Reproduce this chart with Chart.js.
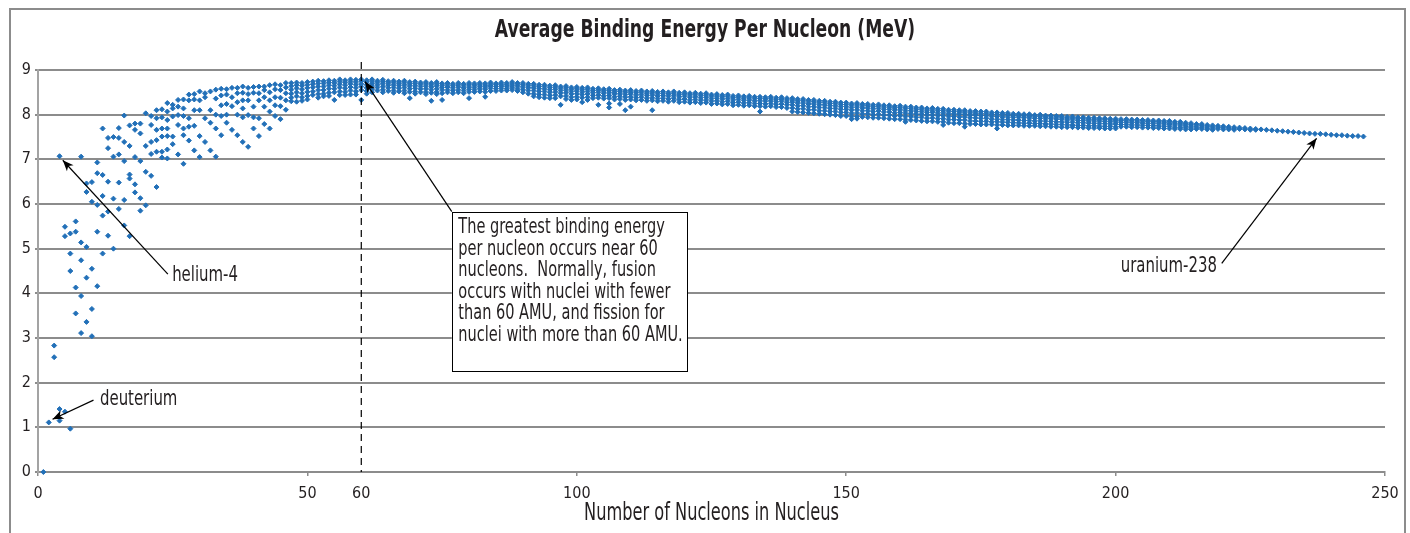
<!DOCTYPE html>
<html>
<head>
<meta charset="utf-8">
<title>Average Binding Energy Per Nucleon</title>
<script src="https://cdn.jsdelivr.net/npm/chart.js@4.4.1/dist/chart.umd.min.js"></script>
<style>
  html, body { margin: 0; padding: 0; background: #fff; }
  canvas { display: block; }
</style>
</head>
<body>
<canvas id="beChart" width="1410" height="533"></canvas>
<script>
// ================= DATA =================
// each entry: [mass number A, [binding energy per nucleon (MeV) of the isobars]]
var lightNuclei = [
  [1, [0]], [2, [1.11]], [3, [2.83, 2.57]], [4, [7.07, 1.41, 1.15]],
  [5, [5.49, 5.28, 1.35]], [6, [5.34, 4.89, 4.50, 0.97]], [7, [5.61, 5.38, 4.13, 3.55]],
  [8, [7.06, 5.14, 4.74, 3.94, 3.11]], [9, [6.46, 6.27, 5.04, 4.35, 3.36]],
  [10, [6.49, 6.05, 4.55, 3.65, 3.04]], [11, [6.93, 6.69, 5.98, 5.38, 4.16]],
  [12, [7.69, 6.65, 6.18, 5.74, 4.89]], [13, [7.48, 7.25, 6.50, 5.83, 5.29]],
  [14, [7.50, 7.06, 6.12, 5.00]], [15, [7.70, 7.48, 7.11, 6.48, 5.89]],
  [16, [7.98, 7.39, 6.96, 6.09, 5.52]], [17, [7.76, 7.30, 6.66, 6.57, 5.28]],
  [18, [7.80, 7.66, 7.05, 6.44, 6.26]], [19, [7.80, 7.58, 6.96, 6.13, 5.85]],
  [20, [8.03, 7.30, 6.72, 5.97]], [21, [7.97, 7.77, 7.39, 7.12, 6.63]],
  [22, [8.10, 7.92, 7.66, 7.43, 7.17, 6.38]], [23, [8.12, 7.94, 7.69, 7.51, 7.17, 7.04]],
  [24, [8.26, 8.07, 7.88, 7.69, 7.52, 7.22, 7.02]], [25, [8.22, 8.14, 7.96, 7.51, 7.34]],
  [26, [8.33, 8.18, 7.99, 7.77, 7.11]], [27, [8.34, 8.14, 7.97, 7.69, 7.54, 6.90]],
  [28, [8.45, 8.32, 7.92, 7.73, 7.42]], [29, [8.46, 8.34, 8.10, 7.75, 7.20]],
  [30, [8.52, 8.32, 8.10, 7.52, 7.05]], [31, [8.48, 8.39, 7.92, 7.39]],
  [32, [8.52, 8.10, 7.82, 7.20]], [33, [8.56, 8.36, 8.00, 7.69, 7.06]],
  [34, [8.58, 8.43, 8.21, 7.97, 7.54]], [35, [8.57, 8.45, 8.24, 8.00, 7.82]],
  [36, [8.60, 8.39, 8.19, 7.66]], [37, [8.60, 8.48, 8.28, 8.00, 7.54]],
  [38, [8.63, 8.49, 8.32, 8.14, 7.94, 7.39]], [39, [8.60, 8.46, 8.32, 7.99, 7.28]],
  [40, [8.62, 8.49, 8.18, 7.94, 7.69]], [41, [8.63, 8.48, 8.32, 7.92, 7.52]],
  [42, [8.63, 8.55, 8.39, 8.18, 7.79]], [43, [8.66, 8.50, 8.32, 8.07, 7.69]],
  [44, [8.68, 8.57, 8.39, 8.21, 7.97]], [45, [8.66, 8.55, 8.38, 8.19, 7.90]],
  [46, [8.71, 8.61, 8.48, 8.32, 8.11]]
];

var mediumNuclei = [
  [47, [8.71, 8.64, 8.56, 8.47, 8.38, 8.30]], [48, [8.72, 8.66, 8.59, 8.50, 8.41, 8.29]],
  [49, [8.71, 8.65, 8.57, 8.48, 8.39, 8.31]], [50, [8.73, 8.67, 8.60, 8.51, 8.42, 8.34]],
  [51, [8.74, 8.68, 8.61, 8.52, 8.44]], [52, [8.76, 8.70, 8.63, 8.55, 8.46, 8.38]],
  [53, [8.75, 8.70, 8.63, 8.55, 8.47, 8.41]], [54, [8.77, 8.72, 8.66, 8.58, 8.49, 8.42]],
  [55, [8.76, 8.71, 8.65, 8.58, 8.50, 8.33]], [56, [8.79, 8.74, 8.68, 8.61, 8.52, 8.44]],
  [57, [8.77, 8.72, 8.66, 8.59, 8.51, 8.44]], [58, [8.79, 8.74, 8.69, 8.62, 8.54, 8.45]],
  [59, [8.78, 8.73, 8.67, 8.60, 8.52, 8.45]], [60, [8.79, 8.75, 8.69, 8.63, 8.55, 8.33]],
  [61, [8.77, 8.73, 8.67, 8.60, 8.53, 8.47]], [62, [8.79, 8.75, 8.70, 8.64, 8.57, 8.50]],
  [63, [8.76, 8.72, 8.67, 8.61, 8.54]], [64, [8.78, 8.74, 8.69, 8.63, 8.56, 8.50]],
  [65, [8.75, 8.71, 8.66, 8.60, 8.53]], [66, [8.76, 8.72, 8.67, 8.61, 8.54, 8.49]],
  [67, [8.74, 8.70, 8.65, 8.59, 8.52]], [68, [8.76, 8.72, 8.67, 8.61, 8.54, 8.48]],
  [69, [8.73, 8.69, 8.64, 8.58, 8.51, 8.37]], [70, [8.74, 8.70, 8.65, 8.59, 8.52, 8.47]],
  [71, [8.72, 8.68, 8.63, 8.57, 8.50]], [72, [8.73, 8.69, 8.64, 8.58, 8.51, 8.46]],
  [73, [8.71, 8.67, 8.62, 8.56, 8.49, 8.31]], [74, [8.73, 8.69, 8.64, 8.58, 8.51, 8.46]],
  [75, [8.70, 8.66, 8.61, 8.55, 8.48, 8.33]], [76, [8.71, 8.67, 8.62, 8.56, 8.50]],
  [77, [8.69, 8.65, 8.60, 8.54, 8.48]], [78, [8.71, 8.67, 8.62, 8.56, 8.50]],
  [79, [8.69, 8.65, 8.60, 8.54, 8.48]], [80, [8.71, 8.67, 8.62, 8.57, 8.51, 8.37]],
  [81, [8.70, 8.66, 8.61, 8.56, 8.51]], [82, [8.71, 8.67, 8.63, 8.58, 8.52]],
  [83, [8.70, 8.66, 8.62, 8.57, 8.51, 8.40]], [84, [8.72, 8.68, 8.64, 8.59, 8.53]],
  [85, [8.70, 8.67, 8.63, 8.58, 8.53]], [86, [8.72, 8.68, 8.64, 8.59, 8.54]],
  [87, [8.71, 8.67, 8.63, 8.58, 8.54]], [88, [8.73, 8.69, 8.65, 8.60, 8.55]],
  [89, [8.71, 8.67, 8.63, 8.58, 8.53]], [90, [8.71, 8.67, 8.62, 8.56, 8.50]],
  [91, [8.69, 8.65, 8.60, 8.54, 8.47]], [92, [8.69, 8.65, 8.60, 8.54, 8.47, 8.41]],
  [93, [8.67, 8.63, 8.58, 8.52, 8.45, 8.39]], [94, [8.67, 8.63, 8.58, 8.52, 8.45, 8.38]],
  [95, [8.65, 8.61, 8.56, 8.50, 8.43, 8.37]], [96, [8.66, 8.62, 8.57, 8.51, 8.44, 8.37]],
  [97, [8.63, 8.59, 8.54, 8.48, 8.41, 8.22]], [98, [8.64, 8.60, 8.55, 8.49, 8.42, 8.35]],
  [99, [8.61, 8.57, 8.52, 8.46, 8.39, 8.33]], [100, [8.62, 8.58, 8.53, 8.47, 8.40, 8.34]],
  [101, [8.60, 8.56, 8.51, 8.45, 8.38, 8.28]], [102, [8.61, 8.57, 8.52, 8.46, 8.39, 8.33]],
  [103, [8.58, 8.54, 8.49, 8.43, 8.37]], [104, [8.59, 8.55, 8.50, 8.44, 8.38, 8.22]],
  [105, [8.57, 8.53, 8.48, 8.42, 8.36]], [106, [8.58, 8.54, 8.49, 8.43, 8.37, 8.25, 8.16]],
  [107, [8.55, 8.51, 8.46, 8.40, 8.34]], [108, [8.56, 8.52, 8.47, 8.41, 8.35, 8.24]],
  [109, [8.54, 8.50, 8.45, 8.39, 8.33, 8.10]], [110, [8.55, 8.51, 8.46, 8.40, 8.34, 8.18]],
  [111, [8.53, 8.49, 8.44, 8.38, 8.32]], [112, [8.54, 8.50, 8.45, 8.39, 8.33]],
  [113, [8.52, 8.48, 8.43, 8.37, 8.31]], [114, [8.53, 8.49, 8.44, 8.38, 8.32, 8.10]],
  [115, [8.51, 8.47, 8.42, 8.36, 8.30]], [116, [8.52, 8.48, 8.43, 8.37, 8.31]],
  [117, [8.50, 8.46, 8.41, 8.35, 8.29]], [118, [8.52, 8.48, 8.43, 8.37, 8.31]],
  [119, [8.49, 8.45, 8.40, 8.34, 8.28]], [120, [8.50, 8.46, 8.41, 8.35, 8.29]]
];

var heavyNuclei = [
  [121, [8.48, 8.44, 8.39, 8.33, 8.27]], [122, [8.49, 8.45, 8.40, 8.34, 8.28]],
  [123, [8.47, 8.43, 8.38, 8.32, 8.26]], [124, [8.48, 8.44, 8.39, 8.33, 8.27]],
  [125, [8.45, 8.41, 8.36, 8.30, 8.24]], [126, [8.46, 8.42, 8.37, 8.31, 8.25]],
  [127, [8.44, 8.40, 8.35, 8.29, 8.23]], [128, [8.45, 8.41, 8.36, 8.30, 8.24]],
  [129, [8.42, 8.38, 8.33, 8.27, 8.21]], [130, [8.43, 8.39, 8.34, 8.28, 8.22]],
  [131, [8.41, 8.37, 8.32, 8.26, 8.20]], [132, [8.42, 8.38, 8.33, 8.27, 8.21]],
  [133, [8.40, 8.36, 8.31, 8.25, 8.19]], [134, [8.40, 8.36, 8.31, 8.25, 8.19, 8.07]],
  [135, [8.39, 8.35, 8.30, 8.24, 8.18]], [136, [8.40, 8.36, 8.31, 8.25, 8.19]],
  [137, [8.38, 8.34, 8.29, 8.23, 8.17]], [138, [8.39, 8.35, 8.30, 8.24, 8.17]],
  [139, [8.37, 8.33, 8.28, 8.22, 8.15]], [140, [8.37, 8.33, 8.28, 8.22, 8.15, 8.07]],
  [141, [8.35, 8.31, 8.26, 8.20, 8.13, 8.06]], [142, [8.35, 8.31, 8.26, 8.20, 8.13, 8.05]],
  [143, [8.33, 8.29, 8.24, 8.18, 8.11, 8.04]], [144, [8.33, 8.29, 8.24, 8.18, 8.11, 8.03]],
  [145, [8.31, 8.27, 8.22, 8.16, 8.09, 8.02]], [146, [8.31, 8.27, 8.22, 8.16, 8.09, 8.01]],
  [147, [8.29, 8.25, 8.20, 8.14, 8.07, 8.00]], [148, [8.29, 8.25, 8.20, 8.14, 8.07, 7.99]],
  [149, [8.27, 8.23, 8.18, 8.12, 8.05, 7.97]], [150, [8.27, 8.23, 8.18, 8.12, 8.05, 7.97]],
  [151, [8.25, 8.21, 8.16, 8.10, 8.03, 7.96, 7.90]], [152, [8.26, 8.22, 8.17, 8.11, 8.04, 7.96, 7.91]],
  [153, [8.24, 8.20, 8.15, 8.09, 8.02, 7.95]], [154, [8.24, 8.20, 8.15, 8.09, 8.02, 7.94]],
  [155, [8.22, 8.18, 8.13, 8.07, 8.00, 7.93]], [156, [8.23, 8.19, 8.14, 8.08, 8.01, 7.93]],
  [157, [8.21, 8.17, 8.12, 8.06, 7.99, 7.92]], [158, [8.21, 8.17, 8.12, 8.06, 7.99, 7.91]],
  [159, [8.19, 8.15, 8.10, 8.04, 7.97, 7.90]], [160, [8.20, 8.16, 8.11, 8.05, 7.98, 7.90]],
  [161, [8.18, 8.14, 8.09, 8.03, 7.96, 7.89, 7.84]], [162, [8.18, 8.14, 8.09, 8.03, 7.96, 7.88]],
  [163, [8.16, 8.12, 8.07, 8.01, 7.94, 7.87]], [164, [8.16, 8.12, 8.07, 8.01, 7.94, 7.86]],
  [165, [8.14, 8.10, 8.05, 7.99, 7.92, 7.85]], [166, [8.15, 8.11, 8.06, 8.00, 7.93, 7.85]],
  [167, [8.13, 8.09, 8.04, 7.98, 7.91, 7.84]], [168, [8.13, 8.09, 8.04, 7.98, 7.91, 7.84, 7.77]],
  [169, [8.11, 8.07, 8.02, 7.96, 7.89, 7.82]], [170, [8.11, 8.07, 8.02, 7.96, 7.89, 7.81]],
  [171, [8.10, 8.06, 8.01, 7.95, 7.88, 7.81]], [172, [8.10, 8.06, 8.01, 7.95, 7.88, 7.80, 7.73]],
  [173, [8.08, 8.04, 7.99, 7.93, 7.86, 7.79]], [174, [8.08, 8.04, 7.99, 7.93, 7.86, 7.79]],
  [175, [8.07, 8.03, 7.98, 7.92, 7.85, 7.78]], [176, [8.07, 8.03, 7.98, 7.92, 7.85, 7.78]],
  [177, [8.05, 8.01, 7.96, 7.90, 7.84, 7.78]], [178, [8.05, 8.01, 7.96, 7.90, 7.84, 7.77, 7.69]],
  [179, [8.04, 8.00, 7.95, 7.89, 7.83, 7.77]], [180, [8.04, 8.00, 7.95, 7.89, 7.83, 7.76]],
  [181, [8.02, 7.98, 7.94, 7.88, 7.82, 7.76]], [182, [8.02, 7.98, 7.94, 7.88, 7.82, 7.76]],
  [183, [8.01, 7.97, 7.93, 7.87, 7.81, 7.75]], [184, [8.01, 7.97, 7.93, 7.87, 7.81, 7.75]],
  [185, [7.99, 7.96, 7.92, 7.86, 7.80, 7.75]], [186, [8.00, 7.96, 7.92, 7.86, 7.80, 7.74]],
  [187, [7.98, 7.95, 7.91, 7.85, 7.79, 7.74]], [188, [7.98, 7.95, 7.91, 7.85, 7.79, 7.73]],
  [189, [7.97, 7.94, 7.90, 7.84, 7.78, 7.73]], [190, [7.97, 7.94, 7.90, 7.84, 7.78, 7.72]],
  [191, [7.95, 7.92, 7.88, 7.83, 7.77, 7.72]], [192, [7.96, 7.93, 7.89, 7.83, 7.77, 7.72]],
  [193, [7.94, 7.91, 7.87, 7.82, 7.76, 7.71]], [194, [7.94, 7.91, 7.87, 7.82, 7.76, 7.71]],
  [195, [7.93, 7.90, 7.86, 7.81, 7.75, 7.70]], [196, [7.93, 7.90, 7.86, 7.81, 7.75, 7.70]],
  [197, [7.92, 7.89, 7.85, 7.80, 7.74, 7.70]], [198, [7.92, 7.89, 7.85, 7.80, 7.74, 7.69]],
  [199, [7.91, 7.88, 7.84, 7.79, 7.74, 7.69]], [200, [7.91, 7.88, 7.84, 7.79, 7.73, 7.69]],
  [201, [7.90, 7.87, 7.83, 7.78, 7.73]], [202, [7.90, 7.87, 7.83, 7.78, 7.73]],
  [203, [7.89, 7.86, 7.82, 7.77, 7.72]], [204, [7.89, 7.86, 7.82, 7.77, 7.72]],
  [205, [7.88, 7.85, 7.81, 7.76, 7.71]], [206, [7.88, 7.85, 7.81, 7.76, 7.71]],
  [207, [7.87, 7.84, 7.80, 7.75, 7.70]], [208, [7.87, 7.84, 7.80, 7.75, 7.70]],
  [209, [7.86, 7.83, 7.79, 7.74, 7.69]], [210, [7.86, 7.83, 7.79, 7.74, 7.69]],
  [211, [7.84, 7.81, 7.77, 7.72, 7.68]], [212, [7.84, 7.81, 7.77, 7.72, 7.68]],
  [213, [7.82, 7.79, 7.75, 7.71, 7.67]], [214, [7.81, 7.78, 7.74, 7.70, 7.67]],
  [215, [7.79, 7.76, 7.72, 7.68]], [216, [7.79, 7.76, 7.72, 7.68]],
  [217, [7.77, 7.74, 7.70, 7.67]], [218, [7.76, 7.73, 7.69, 7.66]],
  [219, [7.75, 7.72, 7.68]], [220, [7.74, 7.71, 7.67]],
  [221, [7.73, 7.70, 7.67]], [222, [7.72, 7.69, 7.66]],
  [223, [7.71, 7.68]], [224, [7.70, 7.67]], [225, [7.69, 7.66]], [226, [7.68, 7.66]],
  [227, [7.67]], [228, [7.66]], [229, [7.65]], [230, [7.64]], [231, [7.63]],
  [232, [7.62]], [233, [7.61]], [234, [7.60]], [235, [7.59]], [236, [7.58]],
  [237, [7.57]], [238, [7.57]], [239, [7.56]], [240, [7.55]], [241, [7.54]],
  [242, [7.54]], [243, [7.53]], [244, [7.52]], [245, [7.52]], [246, [7.51]]
];

var xTicks = [0, 50, 60, 100, 150, 200, 250];
var yTicks = [0, 1, 2, 3, 4, 5, 6, 7, 8, 9];

var chartTitle = "Average Binding Energy Per Nucleon (MeV)";
var xTitle = "Number of Nucleons in Nucleus";

// callouts, anchored in data units (nucleons, MeV)
var callouts = [
  { text: "helium-4", tail: [24.1, 4.43], tip: [4.6, 6.98], at: [24.9, 4.40], align: "left" },
  { text: "deuterium", tail: [10.3, 1.61], tip: [2.7, 1.18], at: [11.5, 1.62], align: "left" },
  { text: "uranium-238", tail: [219.7, 4.67], tip: [237.3, 7.47], at: [218.8, 4.59], align: "right" }
];
var noteLines = [
  "The greatest binding energy",
  "per nucleon occurs near 60",
  "nucleons.  Normally, fusion",
  "occurs with nuclei with fewer",
  "than 60 AMU, and fission for",
  "nuclei with more than 60 AMU."
];
var noteBox = { left: 76.8, top: 5.83, right: 120.5, bottom: 2.28, tip: [60.7, 8.74] };
var markerLine = 60;

// ================= POINTS =================
var points = [];
[lightNuclei, mediumNuclei, heavyNuclei].forEach(function (group) {
  group.forEach(function (row) {
    row[1].forEach(function (be) {
      points.push({ x: row[0], y: be });
    });
  });
});

var FONT = "'Liberation Sans Narrow', 'Arial Narrow', 'DejaVu Sans Condensed', sans-serif";
var TEXT = "#231f20";
var GRID = "#8c8c8c";
Chart.defaults.font.family = FONT;
Chart.defaults.color = TEXT;

// condensed text: squeeze horizontally around the anchor
function squeezeText(ctx, str, x, y, align, k) {
  ctx.save();
  ctx.translate(x, y);
  ctx.scale(k, 1);
  ctx.textAlign = align;
  ctx.fillText(str, 0, 0);
  ctx.restore();
}

// ================= ARROWS =================
function drawArrow(ctx, x1, y1, x2, y2) {
  ctx.beginPath();
  ctx.moveTo(x1, y1);
  ctx.lineTo(x2, y2);
  ctx.stroke();
  var ang = Math.atan2(y2 - y1, x2 - x1);
  var len = 11, half = 4.5, notch = 8;
  var c = Math.cos(ang), s = Math.sin(ang);
  ctx.beginPath();
  ctx.moveTo(x2, y2);
  ctx.lineTo(x2 - len * c + half * s, y2 - len * s - half * c);
  ctx.lineTo(x2 - notch * c, y2 - notch * s);
  ctx.lineTo(x2 - len * c - half * s, y2 - len * s + half * c);
  ctx.closePath();
  ctx.fill();
}

var annotations = {
  id: "annotations",
  afterDatasetsDraw: function (chart) {
    var ctx = chart.ctx;
    var xs = chart.scales.x, ys = chart.scales.y;
    var area = chart.chartArea;
    var px = function (v) { return xs.getPixelForValue(v); };
    var py = function (v) { return ys.getPixelForValue(v); };
    ctx.save();

    // dashed line at 60 nucleons
    ctx.strokeStyle = "#000";
    ctx.lineWidth = 1.2;
    ctx.setLineDash([7, 5]);
    ctx.beginPath();
    ctx.moveTo(px(markerLine), area.top - 8);
    ctx.lineTo(px(markerLine), area.bottom);
    ctx.stroke();
    ctx.setLineDash([]);

    // arrows + labels
    ctx.lineWidth = 1.2;
    ctx.font = "21px " + FONT;
    ctx.textBaseline = "middle";
    callouts.forEach(function (c) {
      ctx.fillStyle = "#000";
      drawArrow(ctx, px(c.tail[0]), py(c.tail[1]), px(c.tip[0]), py(c.tip[1]));
      ctx.fillStyle = TEXT;
      squeezeText(ctx, c.text, px(c.at[0]), py(c.at[1]), c.align, 0.79);
    });

    // note box with its arrow
    var bl = px(noteBox.left), bt = py(noteBox.top);
    var br = px(noteBox.right), bb = py(noteBox.bottom);
    ctx.fillStyle = "#000";
    drawArrow(ctx, bl, bt, px(noteBox.tip[0]), py(noteBox.tip[1]));
    ctx.fillStyle = "#fff";
    ctx.fillRect(bl, bt, br - bl, bb - bt);
    ctx.strokeStyle = "#000";
    ctx.lineWidth = 1;
    ctx.strokeRect(Math.round(bl) + 0.5, Math.round(bt) + 0.5, Math.round(br - bl), Math.round(bb - bt));
    ctx.fillStyle = TEXT;
    noteLines.forEach(function (line, i) {
      squeezeText(ctx, line, bl + 6.5, bt + 16 + i * 21.6, "left", 0.77);
    });

    // chart title and axis title
    ctx.font = "bold 25px " + FONT;
    squeezeText(ctx, chartTitle, chart.width / 2, 30, "center", 0.765);
    ctx.font = "24px " + FONT;
    squeezeText(ctx, xTitle, (area.left + area.right) / 2, 514, "center", 0.75);

    ctx.restore();
  },
  afterDraw: function (chart) {
    // outer frame
    var ctx = chart.ctx;
    ctx.save();
    ctx.strokeStyle = GRID;
    ctx.lineWidth = 2;
    ctx.strokeRect(10, 9, 1395, 540);
    ctx.restore();
  }
};

// ================= CHART =================
var ctxBE = document.getElementById("beChart").getContext("2d");
var beChart = new Chart(ctxBE, {
  type: "scatter",
  data: {
    datasets: [{
      label: "Binding energy per nucleon",
      data: points,
      pointStyle: "rectRot",
      pointRadius: 2.5,
      pointBorderWidth: 1,
      backgroundColor: "#2270b8",
      borderColor: "#2270b8",
      clip: false
    }]
  },
  options: {
    responsive: false,
    devicePixelRatio: 1,
    animation: false,
    layout: { padding: { left: 0, right: 25, top: 70, bottom: 0 } },
    plugins: {
      legend: { display: false },
      tooltip: { enabled: false },
      title: { display: false }
    },
    scales: {
      x: {
        type: "linear",
        min: 0,
        max: 250,
        afterBuildTicks: function (scale) {
          scale.ticks = xTicks.map(function (v) { return { value: v }; });
        },
        afterFit: function (scale) { scale.height = 61; },
        ticks: { color: TEXT, font: { size: 16 }, padding: 8, maxRotation: 0, autoSkip: false },
        grid: {
          drawOnChartArea: false,
          drawTicks: true,
          tickLength: 4,
          lineWidth: 1.5,
          tickColor: function (c) {
            return c.tick && c.tick.value === markerLine ? "rgba(0,0,0,0)" : GRID;
          }
        },
        border: { display: true, color: GRID, width: 2 },
        title: { display: false }
      },
      y: {
        min: 0,
        max: 9,
        afterBuildTicks: function (scale) {
          scale.ticks = yTicks.map(function (v) { return { value: v }; });
        },
        afterFit: function (scale) { scale.width = 38; },
        ticks: { color: TEXT, font: { size: 16 }, padding: 4 },
        grid: { color: GRID, lineWidth: 2, tickLength: 3 },
        border: { display: true, color: "#a3a3a3", width: 2 }
      }
    }
  },
  plugins: [annotations]
});
</script>
</body>
</html>
